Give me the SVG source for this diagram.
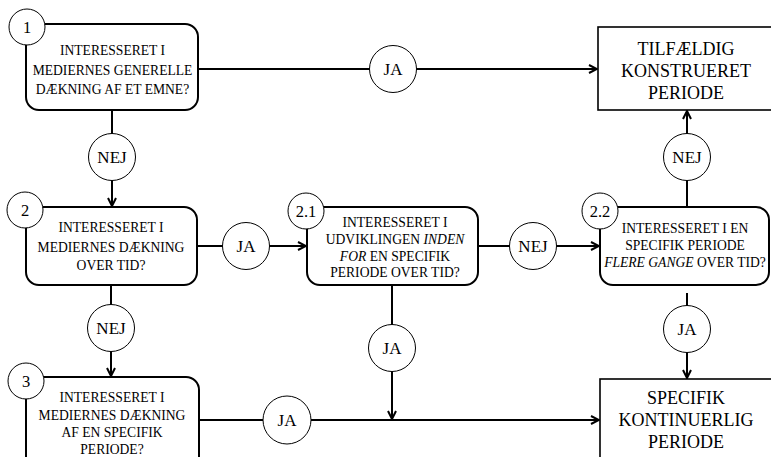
<svg xmlns="http://www.w3.org/2000/svg" width="771" height="457" viewBox="0 0 771 457">
<defs>
<marker id="arr" viewBox="0 0 10 10" refX="9" refY="5" markerWidth="10" markerHeight="10" markerUnits="userSpaceOnUse" orient="auto">
<path d="M1,1 L9,5 L1,9" fill="none" stroke="#000" stroke-width="2"/>
</marker>
<style>
.box{fill:#fff;stroke:#000;stroke-width:2}
.rect{fill:#fff;stroke:#000;stroke-width:1.6}
.num{fill:#fff;stroke:#000;stroke-width:1}
.lab{fill:#fff;stroke:#000;stroke-width:1}
.t{font-family:"Liberation Serif","Times New Roman",serif;fill:#000;text-anchor:middle}
.s{font-size:13.6px}
.b{font-size:18px}
.c{font-size:17px}
.n{font-size:16.5px}
.ln{fill:none;stroke:#000;stroke-width:2}
</style>
</defs>
<rect width="771" height="457" fill="#fff"/>

<g id="connectors">
<line class="ln" x1="198" y1="69" x2="370" y2="69"/>
<line class="ln" x1="416" y1="69" x2="597" y2="69" marker-end="url(#arr)"/>
<line class="ln" x1="112" y1="110" x2="112" y2="134"/>
<line class="ln" x1="112" y1="180" x2="112" y2="206" marker-end="url(#arr)"/>
<line class="ln" x1="197" y1="246" x2="223" y2="246"/>
<line class="ln" x1="269" y1="246" x2="306" y2="246" marker-end="url(#arr)"/>
<line class="ln" x1="478" y1="246" x2="510" y2="246"/>
<line class="ln" x1="556" y1="246" x2="599" y2="246" marker-end="url(#arr)"/>
<line class="ln" x1="687" y1="207" x2="687" y2="180"/>
<line class="ln" x1="687" y1="134" x2="687" y2="111" marker-end="url(#arr)"/>
<line class="ln" x1="111" y1="285" x2="111" y2="305"/>
<line class="ln" x1="111" y1="351" x2="111" y2="376" marker-end="url(#arr)"/>
<line class="ln" x1="392" y1="285" x2="392" y2="325"/>
<line class="ln" x1="392" y1="371" x2="392" y2="419" marker-end="url(#arr)"/>
<line class="ln" x1="199" y1="420" x2="263" y2="420"/>
<line class="ln" x1="311" y1="420" x2="599" y2="420" marker-end="url(#arr)"/>
<line class="ln" x1="687" y1="293" x2="687" y2="306"/>
<line class="ln" x1="687" y1="352" x2="687" y2="378" marker-end="url(#arr)"/>
</g>

<g id="node1">
<rect class="box" x="26" y="24" width="172" height="86" rx="13"/>
<circle class="num" cx="27" cy="27" r="18"/>
<text class="t n" x="27" y="33">1</text>
<text class="t s" x="112.5" y="55">INTERESSERET I</text>
<text class="t s" x="112.5" y="75">MEDIERNES GENERELLE</text>
<text class="t s" x="112.5" y="94">DÆKNING AF ET EMNE?</text>
</g>

<g id="node2">
<rect class="box" x="26" y="207" width="171" height="78" rx="13"/>
<circle class="num" cx="25" cy="210" r="18"/>
<text class="t n" x="25" y="216">2</text>
<text class="t s" x="111" y="232">INTERESSERET I</text>
<text class="t s" x="111" y="251.5">MEDIERNES DÆKNING</text>
<text class="t s" x="111" y="270">OVER TID?</text>
</g>

<g id="node21">
<rect class="box" x="307" y="207" width="171" height="78" rx="13"/>
<circle class="num" cx="306" cy="211" r="18"/>
<text class="t n" x="306" y="217">2.1</text>
<text class="t s" x="395" y="227">INTERESSERET I</text>
<text class="t s" x="395" y="244">UDVIKLINGEN <tspan font-style="italic">INDEN</tspan></text>
<text class="t s" x="395" y="260.5"><tspan font-style="italic">FOR</tspan> EN SPECIFIK</text>
<text class="t s" x="395" y="277">PERIODE OVER TID?</text>
</g>

<g id="node22">
<rect class="box" x="600" y="207" width="169" height="78" rx="13"/>
<circle class="num" cx="600" cy="211" r="18"/>
<text class="t n" x="600" y="217">2.2</text>
<text class="t s" x="685" y="233">INTERESSERET I EN</text>
<text class="t s" x="685" y="250">SPECIFIK PERIODE</text>
<text class="t s" x="685" y="267"><tspan font-style="italic">FLERE GANGE</tspan> OVER TID?</text>
</g>

<g id="node3">
<rect class="box" x="26" y="377" width="173" height="100" rx="13"/>
<circle class="num" cx="26" cy="381" r="18"/>
<text class="t n" x="26" y="387">3</text>
<text class="t s" x="112" y="402">INTERESSERET I</text>
<text class="t s" x="112" y="419.5">MEDIERNES DÆKNING</text>
<text class="t s" x="112" y="437">AF EN SPECIFIK</text>
<text class="t s" x="112" y="454">PERIODE?</text>
</g>

<g id="tilfaeldig">
<rect class="rect" x="598" y="27" width="175" height="83"/>
<text class="t b" x="686" y="55">TILFÆLDIG</text>
<text class="t b" x="686" y="77">KONSTRUERET</text>
<text class="t b" x="686" y="98.5">PERIODE</text>
</g>

<g id="specifik">
<rect class="rect" x="600" y="379" width="175" height="100"/>
<text class="t b" x="686" y="404">SPECIFIK</text>
<text class="t b" x="686" y="426">KONTINUERLIG</text>
<text class="t b" x="686" y="447.5">PERIODE</text>
</g>

<g id="labels">
<circle class="lab" cx="393" cy="69" r="23.5"/>
<text class="t c" x="393" y="75">JA</text>
<circle class="lab" cx="112" cy="157" r="23.5"/>
<text class="t c" x="112" y="163">NEJ</text>
<circle class="lab" cx="687" cy="157" r="23.5"/>
<text class="t c" x="687" y="163">NEJ</text>
<circle class="lab" cx="246" cy="246" r="23.5"/>
<text class="t c" x="246" y="252">JA</text>
<circle class="lab" cx="533" cy="246" r="23.5"/>
<text class="t c" x="533" y="252">NEJ</text>
<circle class="lab" cx="111" cy="328" r="23.5"/>
<text class="t c" x="111" y="334">NEJ</text>
<circle class="lab" cx="392" cy="348" r="23.5"/>
<text class="t c" x="392" y="354">JA</text>
<circle class="lab" cx="287" cy="420" r="24"/>
<text class="t c" x="287" y="426">JA</text>
<circle class="lab" cx="687" cy="329" r="23.5"/>
<text class="t c" x="687" y="335">JA</text>
</g>
</svg>
